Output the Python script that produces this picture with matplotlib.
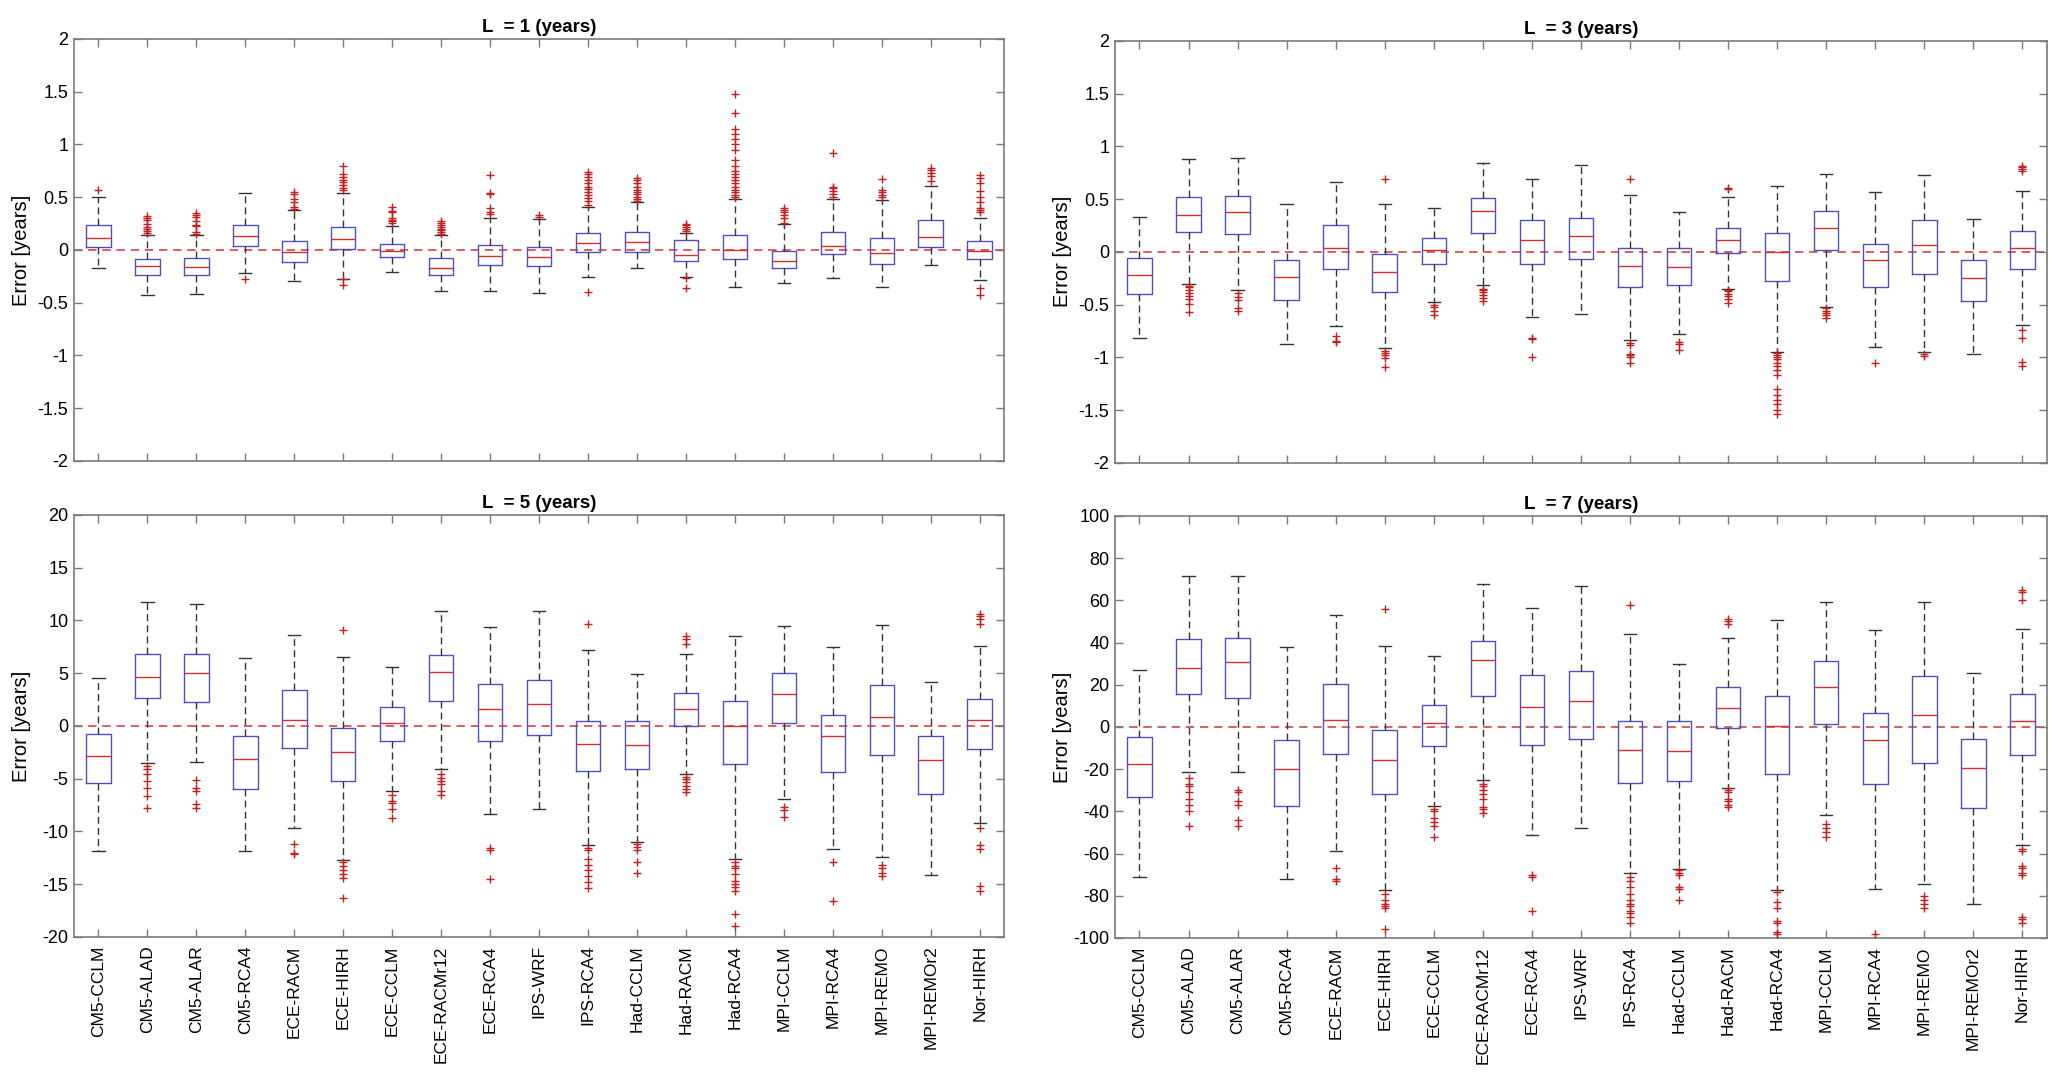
import matplotlib
matplotlib.use("Agg")
import matplotlib.pyplot as plt

plt.rcParams['font.family'] = ['Liberation Sans', 'DejaVu Sans']
plt.rcParams['axes.unicode_minus'] = False

models = ['CM5-CCLM', 'CM5-ALAD', 'CM5-ALAR', 'CM5-RCA4', 'ECE-RACM', 'ECE-HIRH',
          'ECE-CCLM', 'ECE-RACMr12', 'ECE-RCA4', 'IPS-WRF', 'IPS-RCA4', 'Had-CCLM',
          'Had-RACM', 'Had-RCA4', 'MPI-CCLM', 'MPI-RCA4', 'MPI-REMO', 'MPI-REMOr2', 'Nor-HIRH']

# ---- L = 1 ----
L1_q1 = [0.028, -0.233, -0.233, 0.038, -0.117, 0.006, -0.063, -0.233, -0.139, -0.155,
         -0.019, -0.019, -0.107, -0.085, -0.173, -0.041, -0.136, 0.030, -0.088]
L1_med = [0.114, -0.151, -0.164, 0.132, -0.016, 0.100, -0.006, -0.170, -0.054, -0.066,
          0.069, 0.079, -0.050, 0.003, -0.107, 0.038, -0.028, 0.123, -0.010]
L1_q3 = [0.233, -0.082, -0.076, 0.240, 0.085, 0.218, 0.057, -0.079, 0.050, 0.030,
         0.164, 0.173, 0.090, 0.142, -0.006, 0.170, 0.114, 0.280, 0.085]
L1_lo = [-0.17, -0.43, -0.413, -0.218, -0.293, -0.28, -0.205, -0.388, -0.388, -0.404,
         -0.259, -0.17, -0.26, -0.356, -0.315, -0.268, -0.353, -0.139, -0.287]
L1_hi = [0.50, 0.145, 0.145, 0.536, 0.38, 0.536, 0.224, 0.145, 0.306, 0.293,
         0.407, 0.45, 0.164, 0.48, 0.243, 0.48, 0.473, 0.605, 0.30]
L1_out = [[0.565],
          [0.16, 0.18, 0.2, 0.22, 0.25, 0.28, 0.3, 0.32],
          [0.15, 0.17, 0.23, 0.24, 0.27, 0.31, 0.33, 0.35],
          [-0.275],
          [0.39, 0.41, 0.45, 0.48, 0.53, 0.55],
          [0.57, 0.59, 0.62, 0.64, 0.66, 0.69, 0.72, 0.8, -0.28, -0.33],
          [0.26, 0.27, 0.28, 0.3, 0.36, 0.37, 0.41],
          [0.15, 0.17, 0.19, 0.2, 0.22, 0.24, 0.26, 0.27],
          [0.34, 0.36, 0.4, 0.53, 0.54, 0.71],
          [0.31, 0.33],
          [0.43, 0.46, 0.49, 0.52, 0.55, 0.58, 0.6, 0.63, 0.66, 0.69, 0.72, 0.74, -0.4],
          [0.46, 0.48, 0.5, 0.53, 0.55, 0.57, 0.6, 0.63, 0.66, 0.68],
          [0.18, 0.2, 0.22, 0.24, 0.25, -0.27, -0.36],
          [0.5, 0.52, 0.55, 0.57, 0.6, 0.63, 0.66, 0.69, 0.72, 0.75, 0.8, 0.85, 0.95,
           1.0, 1.05, 1.1, 1.15, 1.3, 1.48],
          [0.26, 0.3, 0.33, 0.36, 0.38, 0.4],
          [0.5, 0.53, 0.56, 0.59, 0.6, 0.92],
          [0.5, 0.52, 0.55, 0.57, 0.67],
          [0.65, 0.7, 0.73, 0.76, 0.78],
          [0.36, 0.38, 0.4, 0.45, 0.5, 0.56, 0.63, 0.68, 0.71, -0.36, -0.43]]

# ---- L = 3 ----
L3_q1 = [-0.40, 0.193, 0.167, -0.458, -0.158, -0.382, -0.114, 0.18, -0.114, -0.07,
         -0.329, -0.313, -0.01, -0.272, 0.019, -0.332, -0.209, -0.468, -0.167]
L3_med = [-0.218, 0.35, 0.376, -0.237, 0.035, -0.193, 0.019, 0.392, 0.114, 0.152,
          -0.136, -0.145, 0.114, 0.003, 0.227, -0.079, 0.066, -0.243, 0.038]
L3_q3 = [-0.06, 0.518, 0.525, -0.076, 0.25, -0.019, 0.13, 0.506, 0.30, 0.322,
         0.032, 0.032, 0.23, 0.183, 0.389, 0.076, 0.30, -0.076, 0.196]
L3_lo = [-0.82, -0.30, -0.36, -0.869, -0.705, -0.91, -0.471, -0.313, -0.616, -0.585,
         -0.834, -0.78, -0.354, -0.945, -0.521, -0.897, -0.948, -0.964, -0.695]
L3_hi = [0.33, 0.88, 0.888, 0.449, 0.663, 0.455, 0.414, 0.84, 0.689, 0.82,
         0.543, 0.376, 0.521, 0.62, 0.74, 0.566, 0.727, 0.316, 0.578]
L3_out = [[],
          [-0.32, -0.33, -0.36, -0.39, -0.42, -0.45, -0.49, -0.57],
          [-0.39, -0.43, -0.46, -0.53, -0.56],
          [],
          [-0.8, -0.84, -0.85],
          [0.69, -0.94, -0.96, -0.98, -1.01, -1.09],
          [-0.5, -0.52, -0.56, -0.6],
          [-0.35, -0.36, -0.38, -0.41, -0.44, -0.47],
          [-0.82, -0.83, -1.0],
          [],
          [0.69, -0.86, -0.88, -0.97, -0.98, -1.0, -1.05],
          [-0.85, -0.87, -0.93],
          [0.6, 0.61, -0.36, -0.37, -0.4, -0.42, -0.45, -0.48],
          [-0.96, -0.98, -1.0, -1.02, -1.05, -1.08, -1.12, -1.17, -1.3, -1.36, -1.4,
           -1.44, -1.5, -1.54],
          [-0.53, -0.56, -0.58, -0.6, -0.63],
          [-1.05],
          [-0.97, -0.99],
          [],
          [0.77, 0.79, 0.8, 0.81, -0.74, -0.82, -1.04, -1.08]]

# ---- L = 5 ----
L5_q1 = [-5.36, 2.63, 2.27, -6.0, -2.09, -5.2, -1.4, 2.37, -1.4, -0.9,
         -4.28, -4.1, 0.0, -3.63, 0.25, -4.4, -2.75, -6.44, -2.15]
L5_med = [-2.88, 4.6, 5.04, -3.17, 0.61, -2.5, 0.32, 5.14, 1.62, 2.05,
          -1.69, -1.8, 1.62, 0.0, 3.06, -1.0, 0.88, -3.25, 0.54]
L5_q3 = [-0.76, 6.8, 6.83, -0.94, 3.45, -0.18, 1.8, 6.7, 3.96, 4.32,
         0.5, 0.5, 3.09, 2.4, 5.0, 1.04, 3.9, -0.95, 2.6]
L5_lo = [-11.87, -3.49, -3.42, -11.83, -9.64, -12.7, -6.15, -4.06, -8.35, -7.84,
         -11.3, -10.97, -4.6, -12.6, -6.9, -11.7, -12.4, -14.1, -9.24]
L5_hi = [4.57, 11.7, 11.6, 6.4, 8.6, 6.5, 5.6, 10.9, 9.4, 10.9,
         7.23, 4.96, 6.8, 8.5, 9.5, 7.5, 9.6, 4.13, 7.57]
L5_out = [[],
          [-3.8, -4.1, -4.6, -5.2, -5.9, -6.6, -7.8],
          [-5.1, -5.9, -6.2, -7.4, -7.8],
          [],
          [-11.2, -12.0, -12.1],
          [9.1, -12.9, -13.3, -13.7, -14.0, -14.4, -16.3],
          [-6.5, -7.1, -7.3, -7.9, -8.7],
          [-4.6, -4.9, -5.2, -5.5, -6.2, -6.5],
          [-11.6, -11.8, -14.5],
          [],
          [9.65, -11.6, -11.8, -12.6, -13.2, -13.7, -14.2, -14.8, -15.4],
          [-11.2, -11.5, -11.8, -12.9, -13.9],
          [7.8, 8.2, 8.5, -4.8, -5.0, -5.3, -5.7, -6.0, -6.3],
          [-12.9, -13.3, -13.5, -14.0, -14.7, -15.0, -15.3, -15.6, -17.8, -19.0],
          [-7.7, -8.0, -8.6],
          [-12.9, -16.6],
          [-13.2, -13.5, -13.9, -14.2],
          [],
          [9.7, 10.1, 10.4, 10.6, -9.7, -11.3, -11.7, -15.2, -15.6]]

# ---- L = 7 ----
L7_q1 = [-33.1, 15.5, 13.5, -37.4, -12.8, -31.8, -9.2, 14.6, -8.8, -5.8,
         -26.6, -25.4, -0.4, -22.3, 1.6, -27.2, -17.1, -38.5, -13.5]
L7_med = [-17.8, 28.1, 30.6, -19.8, 3.1, -15.8, 1.8, 31.7, 9.4, 12.4,
          -10.8, -11.5, 9.2, 0.2, 18.7, -6.3, 5.6, -19.6, 2.9]
L7_q3 = [-5.0, 41.7, 42.3, -6.1, 20.3, -1.4, 10.4, 40.8, 24.5, 26.3,
         2.7, 2.9, 18.7, 14.7, 31.1, 6.5, 24.1, -5.9, 15.8]
L7_lo = [-71.0, -21.6, -21.2, -72.1, -58.6, -77.2, -37.4, -25.2, -51.3, -48.0,
         -69.1, -67.1, -29.0, -77.2, -41.7, -76.8, -74.6, -83.8, -55.9]
L7_hi = [27.2, 71.4, 71.6, 38.1, 53.2, 38.5, 33.8, 67.8, 56.5, 66.9,
         43.9, 30.0, 42.1, 50.9, 59.2, 46.0, 59.2, 25.5, 46.6]
L7_out = [[],
          [-24, -27, -28, -31, -34, -37, -40, -47],
          [-30, -31, -35, -37, -44, -47],
          [],
          [-67, -72, -73],
          [56, -79, -82, -84, -85, -86, -96],
          [-39, -40, -43, -45, -47, -52],
          [-27, -28, -30, -32, -34, -38, -39, -41],
          [-70, -71, -87],
          [],
          [57.7, -71, -73, -76, -79, -82, -84, -85, -87, -88, -90, -93],
          [-68, -69, -70, -76, -77, -82],
          [49, 50, 51, -30, -31, -34, -35, -37, -38],
          [-78, -83, -86, -92, -93, -97, -98],
          [-46, -48, -50, -52],
          [-98],
          [-80, -82, -84, -86],
          [],
          [60, 64, 65, -58, -59, -66, -67, -69, -70, -90, -91, -93]]

panels = [
    ('L  = 1 (years)', L1_q1, L1_med, L1_q3, L1_lo, L1_hi, L1_out, 2, 0.5, False),
    ('L  = 3 (years)', L3_q1, L3_med, L3_q3, L3_lo, L3_hi, L3_out, 2, 0.5, False),
    ('L  = 5 (years)', L5_q1, L5_med, L5_q3, L5_lo, L5_hi, L5_out, 20, 5, True),
    ('L  = 7 (years)', L7_q1, L7_med, L7_q3, L7_lo, L7_hi, L7_out, 100, 20, True),
]

fig = plt.figure(figsize=(20.67, 10.75), dpi=100)
rects = [[0.0358, 0.5712, 0.450, 0.3926], [0.5394, 0.5694, 0.4509, 0.3926],
         [0.0358, 0.1284, 0.450, 0.3926], [0.5394, 0.1275, 0.4509, 0.3926]]

grey = '#7a7a7a'
for rect, (title, q1, med, q3, lo, hi, out, lim, step, show_x) in zip(rects, panels):
    ax = fig.add_axes(rect)
    stats = []
    for i in range(len(models)):
        stats.append(dict(q1=q1[i], med=med[i], q3=q3[i], whislo=lo[i], whishi=hi[i],
                          fliers=out[i], label=models[i]))
    ax.axhline(0, color='#d04545', lw=1.2, ls=(0, (5, 3.5)), zorder=1)
    ax.bxp(stats, positions=range(1, len(models) + 1), widths=0.5, patch_artist=False,
           boxprops=dict(color='#5050c0', lw=1.0),
           medianprops=dict(color='#d03030', lw=1.0),
           whiskerprops=dict(color='#333333', lw=1.0, ls=(0, (5, 3))),
           capprops=dict(color='#333333', lw=1.0),
           capwidths=0.25,
           flierprops=dict(marker='+', markeredgecolor='#c02020', markersize=6,
                           markeredgewidth=1.0, linestyle='none'),
           manage_ticks=False, zorder=3)
    ax.set_xlim(0.5, len(models) + 0.5)
    ax.set_ylim(-lim, lim)
    ticks = [-lim + step * k for k in range(int(round(2 * lim / step)) + 1)]
    ax.set_yticks(ticks)
    ax.set_yticklabels(['%g' % t for t in ticks], fontsize=13)
    ax.set_xticks(range(1, len(models) + 1))
    if show_x:
        ax.set_xticklabels(models, rotation=90, fontsize=12.5)
    else:
        ax.set_xticklabels([])
    ax.tick_params(axis='both', direction='in', length=6, width=1.0, color=grey,
                   top=True, right=True)
    ax.tick_params(axis='x', pad=6)
    ax.tick_params(axis='y', pad=4)
    for s in ax.spines.values():
        s.set_color(grey)
        s.set_linewidth(1.2)
    ax.set_ylabel('Error [years]', fontsize=14.5)
    ax.yaxis.set_label_coords(-0.046, 0.5)
    ax.set_title(title, fontsize=13.5, fontweight='bold', pad=5)

plt.savefig('out.png', dpi=100)
